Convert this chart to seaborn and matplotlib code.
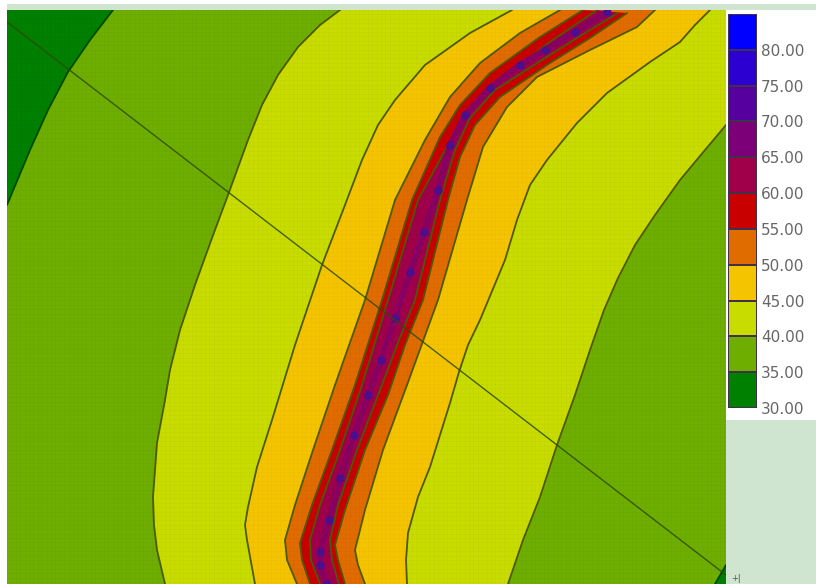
import numpy as np
import pandas as pd
import seaborn as sns
import matplotlib.pyplot as plt
from matplotlib.colors import ListedColormap

# legend levels, top to bottom
level_labels = ['80.00', '75.00', '70.00', '65.00', '60.00', '55.00', '50.00', '45.00', '40.00', '35.00', '30.00']
level_mid = [82.5, 77.5, 72.5, 67.5, 62.5, 57.5, 52.5, 47.5, 42.5, 37.5, 32.5]
level_colors = ['#0000ff', '#2c00d0', '#56009f', '#7c0078', '#a0004a', '#c80000',
                '#e06c00', '#f5c400', '#c8dc00', '#6eae00', '#008000']

# contour lines, x and y in map units
c35_left_x = [113, 90, 68, 48, 30, 7]
c35_left_y = [10, 40, 72, 110, 150, 205]
c35_corner_x = [726, 715]
c35_corner_y = [565, 584]

c40_left_x = [340, 320, 298, 278, 262, 248, 228, 212, 195, 180, 170, 165, 157, 153, 154, 157, 165]
c40_left_y = [10, 25, 47, 75, 105, 140, 195, 238, 285, 330, 370, 400, 443, 497, 525, 550, 584]
c40_right_x = [726, 705, 680, 655, 635, 618, 604, 590, 575, 557, 540, 523, 508]
c40_right_y = [125, 150, 180, 215, 245, 278, 310, 350, 395, 445, 497, 540, 584]

c45_left_x = [512, 470, 425, 395, 378, 362, 345, 322, 295, 272, 257, 248, 245, 247, 255]
c45_left_y = [10, 33, 65, 100, 125, 160, 205, 265, 345, 420, 467, 507, 525, 540, 584]
c45_right_x = [710, 695, 680, 650, 607, 577, 547, 530, 517, 505, 480, 468, 459, 450, 430, 418, 408, 406, 407]
c45_right_y = [10, 25, 42, 62, 93, 123, 160, 185, 220, 260, 320, 345, 372, 403, 467, 497, 533, 560, 584]

c50_left_x = [560, 520, 480, 450, 425, 395, 365, 335, 313, 295, 285, 287, 297]
c50_left_y = [10, 33, 63, 97, 140, 200, 300, 385, 450, 505, 540, 560, 584]
c50_right_x = [655, 637, 590, 537, 507, 483, 467, 438, 407, 383, 365, 355, 358, 365]
c50_right_y = [10, 27, 50, 77, 107, 147, 200, 300, 385, 450, 510, 550, 565, 584]

c55_left_x = [583, 540, 490, 460, 440, 412, 382, 355, 332, 312, 300, 302, 310]
c55_left_y = [10, 37, 73, 105, 137, 200, 300, 385, 450, 505, 543, 560, 584]
c55_right_x = [627, 590, 550, 500, 475, 460, 448, 423, 405, 388, 365, 345, 335, 338, 345]
c55_right_y = [13, 38, 63, 97, 125, 157, 200, 300, 345, 395, 450, 510, 545, 560, 584]

c60_left_x = [597, 550, 498, 468, 448, 418, 388, 362, 340, 320, 310, 311, 320]
c60_left_y = [10, 42, 80, 112, 145, 200, 300, 385, 450, 505, 540, 560, 584]
c60_right_x = [618, 580, 545, 495, 470, 455, 440, 415, 399, 380, 357, 338, 330, 332, 339]
c60_right_y = [13, 36, 58, 90, 118, 150, 200, 300, 340, 390, 450, 505, 540, 560, 584]

# centre of the road, where the level peaks
road_x = [607, 575, 545, 520, 490, 465, 450, 438, 424, 410, 395, 381, 368, 354, 340, 329, 320, 320, 327]
road_y = [12, 32, 50, 65, 88, 115, 145, 190, 232, 272, 318, 360, 395, 435, 478, 520, 552, 565, 584]

# straight cross section line
section_x = [7, 726]
section_y = [22, 575]

map_bands = [
    (c45_left_x, c45_left_y, c45_right_x, c45_right_y, '#f5c400'),
    (c50_left_x, c50_left_y, c50_right_x, c50_right_y, '#e06c00'),
    (c55_left_x, c55_left_y, c55_right_x, c55_right_y, '#c80000'),
    (c60_left_x, c60_left_y, c60_right_x, c60_right_y, '#a0004a'),
]

sns.set_theme(style='white')
plt.rcParams['font.family'] = ['DejaVu Sans']

fig = plt.figure(figsize=(8.16, 5.84), dpi=100, facecolor='white')


def px_axes(left, top, right, bottom):
    return fig.add_axes((left / 816, 1 - bottom / 584, (right - left) / 816, (bottom - top) / 584))


def contour_line(xs, ys, axis, color='#4d5a00'):
    sns.lineplot(x=xs, y=ys, sort=False, estimator=None, color=color, lw=1.3, ax=axis)


# page background behind the map and the legend
bg = px_axes(7, 4, 816, 584)
bg.set_facecolor('#cfe5cf')
bg.set_xticks([])
bg.set_yticks([])
sns.despine(ax=bg, left=True, bottom=True)
bg.text(731 / 816, 1 - 583 / 584, '+|', transform=fig.transFigure, fontsize=6, color='#555555', va='bottom')

ax = px_axes(7, 10, 726, 584)
ax.set_facecolor('#6eae00')
ax.set_xticks([])
ax.set_yticks([])
sns.despine(ax=ax, left=True, bottom=True)

# lowest band in the corners
ax.fill(c35_left_x + [7], c35_left_y + [10], color='#008000', lw=0)
ax.fill(c35_corner_x + [726], c35_corner_y + [584], color='#008000', lw=0)
contour_line(c35_left_x, c35_left_y, ax, '#004a00')
contour_line(c35_corner_x, c35_corner_y, ax, '#004a00')

# 40 band runs into the top right corner of the map
ax.fill(c40_left_x + c40_right_x[::-1] + [726], c40_left_y + c40_right_y[::-1] + [10], color='#c8dc00', lw=0)
contour_line(c40_left_x, c40_left_y, ax)
contour_line(c40_right_x, c40_right_y, ax)

for lx, ly, rx, ry, col in map_bands:
    ax.fill(lx + rx[::-1], ly + ry[::-1], color=col, lw=0)
    contour_line(lx, ly, ax)
    contour_line(rx, ry, ax)

sns.lineplot(x=road_x, y=road_y, sort=False, estimator=None, color='#880062', lw=4.5, ax=ax)
sns.lineplot(x=road_x, y=road_y, sort=False, estimator=None, color='#4a1090', lw=0,
             marker='o', markersize=6, markeredgewidth=0, ax=ax)

# faint calculation grid
ax.vlines(np.arange(7, 726, 4.4), 10, 584, color='#000000', lw=0.4, alpha=0.035)
ax.hlines(np.arange(10, 584, 4.4), 7, 726, color='#000000', lw=0.4, alpha=0.035)

sns.lineplot(x=section_x, y=section_y, sort=False, estimator=None, color='#2d4a00', lw=1.0, alpha=0.85, ax=ax)
ax.set_xlim(7, 726)
ax.set_ylim(584, 10)
ax.set_xlabel('')
ax.set_ylabel('')

# legend panel
panel = px_axes(726, 10, 816, 420)
panel.set_facecolor('white')
panel.set_xticks([])
panel.set_yticks([])
sns.despine(ax=panel, left=True, bottom=True)

cbar_ax = px_axes(728, 14, 757, 408)
legend_df = pd.DataFrame({'level': level_mid})
sns.heatmap(legend_df, ax=cbar_ax, cbar=False, cmap=ListedColormap(level_colors[::-1]),
            vmin=30, vmax=85, linewidths=0.2, linecolor='#40304a', xticklabels=False)
cbar_ax.yaxis.tick_right()
cbar_ax.set_yticks(np.arange(1, len(level_labels) + 1))
cbar_ax.set_yticklabels(level_labels, rotation=0, fontsize=11, color='#666666')
cbar_ax.tick_params(axis='y', length=0, pad=3)
cbar_ax.set_ylabel('')

fig.savefig('out.png', dpi=100)
